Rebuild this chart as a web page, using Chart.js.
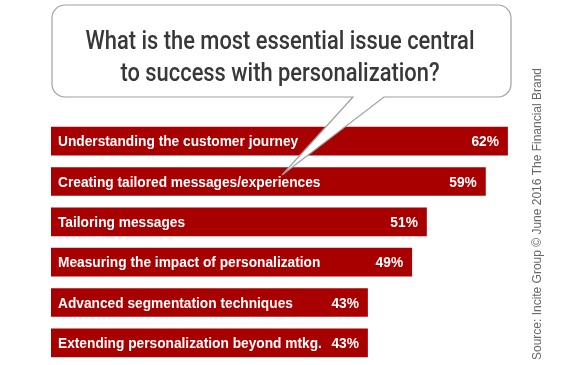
<!DOCTYPE html>
<html>
<head>
<meta charset="utf-8">
<script src="https://cdn.jsdelivr.net/npm/chart.js@4/dist/chart.umd.min.js"></script>
<style>
  html, body { margin: 0; padding: 0; background: #fff; }
  #wrap { width: 565px; height: 365px; }
</style>
</head>
<body>
<div id="wrap"><canvas id="myChart" width="565" height="365"></canvas></div>
<script>
// chart data
const categories = [
  'Understanding the customer journey',
  'Creating tailored messages/experiences',
  'Tailoring messages',
  'Measuring the impact of personalization',
  'Advanced segmentation techniques',
  'Extending personalization beyond mtkg.'
];
const values = [62, 59, 51, 49, 43, 43];
const titleLines = ['What is the most essential issue central', 'to success with personalization?'];
const sourceText = 'Source: Incite Group \u00A9 June 2016 The Financial Brand';

const BAR_RED = '#a80000';

// draws text squeezed horizontally, like the condensed font in the original
function condensedText(ctx, text, x, y, sx) {
  ctx.save();
  ctx.translate(x, y);
  ctx.scale(sx, 1);
  ctx.fillText(text, 0, 0);
  ctx.restore();
}

// labels inside the bars
const barLabels = {
  id: 'barLabels',
  afterDatasetsDraw(chart) {
    const ctx = chart.ctx;
    const meta = chart.getDatasetMeta(0);
    ctx.save();
    ctx.fillStyle = '#fff';
    ctx.font = 'bold 15px "Liberation Sans", Arial, sans-serif';
    ctx.textBaseline = 'middle';
    meta.data.forEach((bar, i) => {
      ctx.textAlign = 'left';
      condensedText(ctx, categories[i], bar.base + 7, bar.y + 1, 0.915);
      ctx.textAlign = 'right';
      condensedText(ctx, values[i] + '%', bar.x - 9, bar.y + 1, 0.915);
    });
    ctx.restore();
  }
};

// speech bubble with the question + vertical source line
const bubble = {
  id: 'bubble',
  afterDraw(chart) {
    const ctx = chart.ctx;
    const l = 52, r = 511, t = 5, b = 97, rad = 13;
    const tip = { x: 282, y: 175 };
    ctx.save();
    ctx.beginPath();
    ctx.moveTo(l + rad, t);
    ctx.lineTo(r - rad, t);
    ctx.arcTo(r, t, r, t + rad, rad);
    ctx.lineTo(r, b - rad);
    ctx.arcTo(r, b, r - rad, b, rad);
    ctx.lineTo(384, b);
    ctx.lineTo(tip.x, tip.y);
    ctx.lineTo(353, b);
    ctx.lineTo(l + rad, b);
    ctx.arcTo(l, b, l, b - rad, rad);
    ctx.lineTo(l, t + rad);
    ctx.arcTo(l, t, l + rad, t, rad);
    ctx.closePath();
    ctx.fillStyle = '#fff';
    ctx.fill();
    ctx.strokeStyle = '#a0a0a0';
    ctx.lineWidth = 1.2;
    ctx.stroke();

    // question text
    ctx.fillStyle = '#383838';
    ctx.font = '500 26px Roboto, "Liberation Sans", sans-serif';
    ctx.textAlign = 'center';
    ctx.textBaseline = 'alphabetic';
    const sx = 389 / ctx.measureText(titleLines[0]).width;
    condensedText(ctx, titleLines[0], 280, 49, sx);
    condensedText(ctx, titleLines[1], 280, 81, sx);

    // source
    ctx.fillStyle = '#666';
    ctx.font = '12.5px "Liberation Sans", Arial, sans-serif';
    ctx.textAlign = 'left';
    ctx.textBaseline = 'middle';
    ctx.translate(538, 360);
    ctx.rotate(-Math.PI / 2);
    const ssx = Math.min(1, 292 / ctx.measureText(sourceText).width);
    condensedText(ctx, sourceText, 0, 0, ssx);
    ctx.restore();
  }
};

const ctx = document.getElementById('myChart').getContext('2d');
new Chart(ctx, {
  type: 'bar',
  data: {
    labels: categories,
    datasets: [{
      data: values,
      backgroundColor: BAR_RED,
      borderWidth: 0,
      barPercentage: 0.71,
      categoryPercentage: 1
    }]
  },
  options: {
    indexAxis: 'y',
    responsive: false,
    animation: false,
    layout: { padding: { left: 51, right: 35, top: 121, bottom: 2 } },
    scales: {
      x: { display: false, min: 0, max: 65 },
      y: { display: false }
    },
    plugins: {
      legend: { display: false },
      tooltip: { enabled: false }
    }
  },
  plugins: [barLabels, bubble]
});
</script>
</body>
</html>
